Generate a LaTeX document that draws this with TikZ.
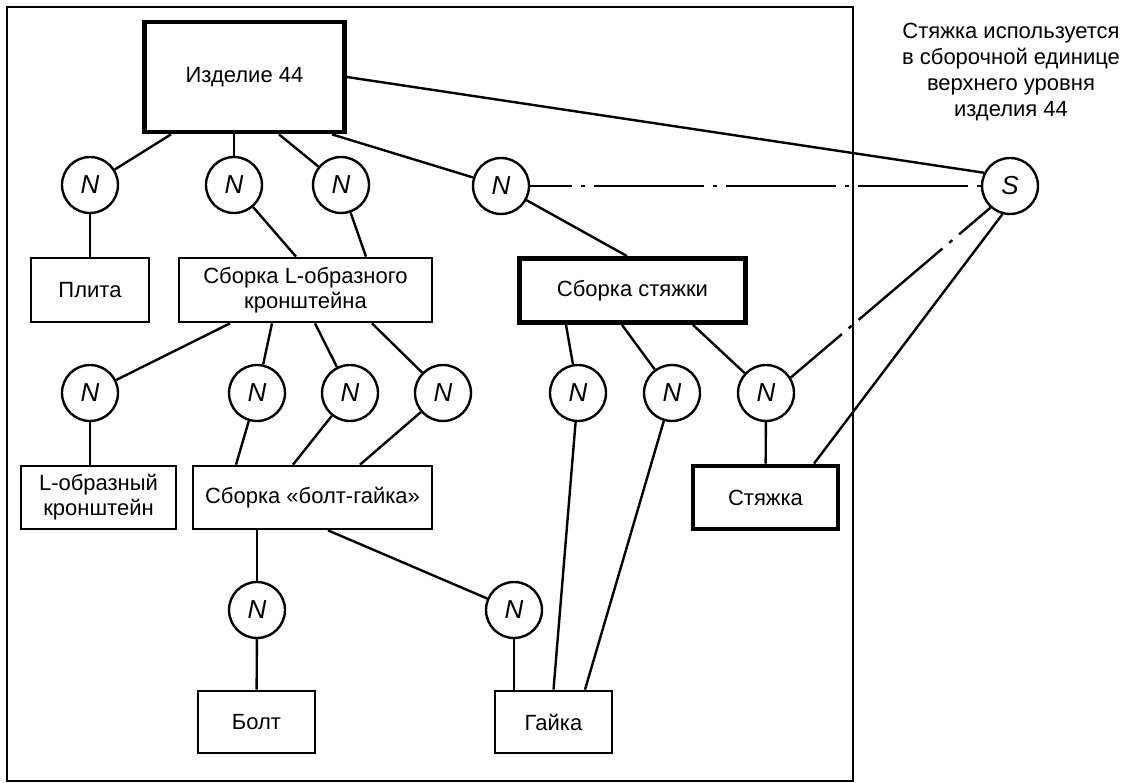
\documentclass[tikz,border=0pt]{standalone}
\usepackage{fontspec}
\setmainfont{Liberation Sans}
\begin{document}
\begin{tikzpicture}[x=1pt,y=-1pt,
  box/.style={draw, rectangle, line width=2.7pt, inner sep=0pt, align=center,
              font=\fontsize{22}{25}\selectfont},
  heavy/.style={box, line width=4.8pt},
  occ/.style={draw, circle, line width=2.4pt, minimum size=56pt, inner sep=0pt,
              font=\fontsize{26}{26}\selectfont\itshape},
  link/.style={line width=2.4pt},
  altlink/.style={line width=2.4pt, dash pattern=on 110pt off 9pt on 4pt off 9pt},
  note/.style={align=center, font=\fontsize{22}{26}\selectfont}]

\useasboundingbox (0,0) rectangle (1135,783);

% outer frame of the product structure
\draw[line width=2pt] (7,7) rectangle (853,781);

% items
\node[heavy, minimum width=200pt, minimum height=110pt] (izd) at (244.5,77) {Изделие 44};
\node[box, minimum width=118pt, minimum height=64pt] (plita) at (90,290) {Плита};
\node[box, minimum width=253pt, minimum height=64pt] (sbl) at (305.5,290) {Сборка L-образного\\кронштейна};
\node[heavy, minimum width=226pt, minimum height=64pt] (sbs) at (632.5,290.5) {Сборка стяжки};
\node[box, minimum width=155pt, minimum height=63pt] (lbr) at (98.5,497.5) {L-образный\\кронштейн};
\node[box, minimum width=239pt, minimum height=63pt] (bg) at (312.5,497.5) {Сборка «болт-гайка»};
\node[heavy, minimum width=145pt, minimum height=63pt] (stz) at (765.5,497.5) {Стяжка};
\node[box, minimum width=117pt, minimum height=62pt] (bolt) at (256.5,722) {Болт};
\node[box, minimum width=117pt, minimum height=62pt] (gayka) at (553.5,722) {Гайка};

% usage occurrences
\node[occ] (n1) at (90,185) {N};
\node[occ] (n2) at (234,185) {N};
\node[occ] (n3) at (341,185) {N};
\node[occ] (n4) at (501,186) {N};
\node[occ] (s) at (1010,186) {S};

\node[occ] (m1) at (90,393) {N};
\node[occ] (m2) at (257,393) {N};
\node[occ] (m3) at (350,393) {N};
\node[occ] (m4) at (443,393) {N};
\node[occ] (m5) at (578,393) {N};
\node[occ] (m6) at (672,393) {N};
\node[occ] (m7) at (766,393) {N};

\node[occ] (k1) at (257,610) {N};
\node[occ] (k2) at (514,610) {N};

\node[note] (txt) at (1011,72) {Стяжка используется\\в сборочной единице\\верхнего уровня\\изделия 44};

% top level
\draw[link] ([xshift=-73.5pt]izd.south) -- (n1);
\draw[link] ([xshift=-10.5pt]izd.south) -- (n2);
\draw[link] ([xshift=34.5pt]izd.south) -- (n3);
\draw[link] ([xshift=87.5pt]izd.south) -- (n4);
\draw[link] (izd.east) -- (s.153);

\draw[link] (n1) -- (plita);
\draw[link] (n2) -- ([xshift=-9.5pt]sbl.north);
\draw[link] (n3) -- ([xshift=60.5pt]sbl.north);
\draw[link] (n4) -- ([xshift=-5.5pt]sbs.north);
\draw[altlink, dash phase=68pt] (n4) -- (s);

% L-bracket assembly
\draw[link] ([xshift=-75.5pt]sbl.south) -- (m1);
\draw[link] ([xshift=-33.5pt]sbl.south) -- (m2);
\draw[link] ([xshift=9.5pt]sbl.south) -- (m3);
\draw[link] ([xshift=66.5pt]sbl.south) -- (m4);
\draw[link] (m1) -- ([xshift=-8.5pt]lbr.north);
\draw[link] (m2) -- ([xshift=-76.5pt]bg.north);
\draw[link] (m3) -- ([xshift=-19.5pt]bg.north);
\draw[link] (m4) -- ([xshift=47.5pt]bg.north);

% tie-rod assembly
\draw[link] ([xshift=-66.5pt]sbs.south) -- (m5);
\draw[link] ([xshift=-10.5pt]sbs.south) -- (m6);
\draw[link] ([xshift=60.5pt]sbs.south) -- (m7);
\draw[link] (m5) -- (gayka.north);
\draw[link] (m6) -- ([xshift=31.5pt]gayka.north);
\draw[link] (m7) -- (stz);
\draw[altlink, dash phase=43pt] (m7.32) -- (s.-132);
\draw[link] (s.-105) -- ([xshift=48.5pt]stz.north);

% bolt-nut assembly
\draw[link] ([xshift=-55.5pt]bg.south) -- (k1);
\draw[link] ([xshift=15.5pt]bg.south) -- (k2);
\draw[link] (k1) -- (bolt);
\draw[link] (k2) -- ([xshift=-39.5pt]gayka.north);

\end{tikzpicture}
\end{document}
